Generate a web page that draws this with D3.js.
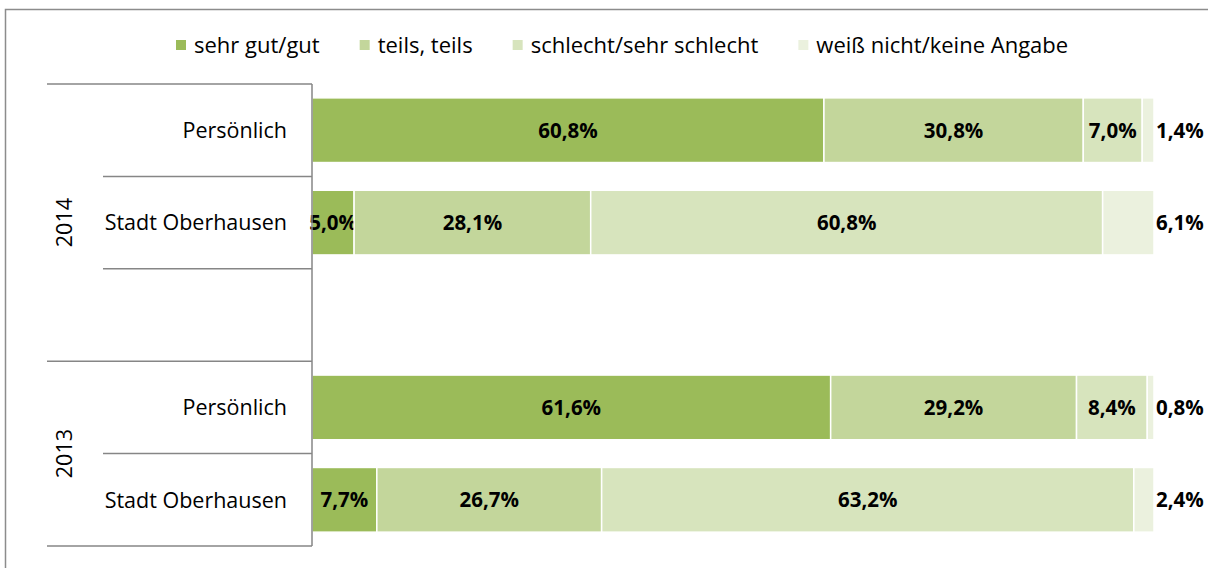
<!DOCTYPE html>
<html><head><meta charset="utf-8">
<script src="https://cdn.jsdelivr.net/npm/d3@7"></script>
<style>html,body{margin:0;padding:0;background:#fff;}svg{display:block;font-family:"Open Sans",sans-serif;}</style>
</head><body>
<svg id="c" width="1208" height="568"></svg>
<script>
const seriesNames = ["sehr gut/gut", "teils, teils", "schlecht/sehr schlecht", "weiß nicht/keine Angabe"];
const seriesColors = ["#9BBB59", "#C3D69B", "#D7E4BD", "#EBF1DE"];
const years = ["2014", "2013"];
const rowKeys = ["2014|Persönlich", "2014|Stadt Oberhausen", "2014|", "2013|Persönlich", "2013|Stadt Oberhausen"];
const rowLabels = ["Persönlich", "Stadt Oberhausen", "", "Persönlich", "Stadt Oberhausen"];
const sehrGut = [60.8, 5.0, null, 61.6, 7.7];
const teils = [30.8, 28.1, null, 29.2, 26.7];
const schlecht = [7.0, 60.8, null, 8.4, 63.2];
const weissNicht = [1.4, 6.1, null, 0.8, 2.4];
const valueSeries = [sehrGut, teils, schlecht, weissNicht];

const svg = d3.select("#c");
const fmt = v => d3.format(".1f")(v).replace(".", ",") + "%";

const x = d3.scaleLinear().domain([0, 100]).range([312, 1154]);
const y = d3.scaleBand().domain(rowKeys).range([84, 546]).paddingInner(0.3).paddingOuter(0.15);
const gap = y.step() * y.paddingInner() / 2;

// outer border
svg.append("rect").attr("x", 5.5).attr("y", 9.5).attr("width", 1220).attr("height", 580)
  .attr("fill", "none").attr("stroke", "#8c8c8c").attr("stroke-width", 1.5);

// bars
rowKeys.forEach((k, i) => {
  let acc = 0;
  valueSeries.forEach((s, j) => {
    const v = s[i];
    if (v == null) return;
    const x0 = x(acc), x1 = x(acc + v);
    acc += v;
    svg.append("rect").attr("x", x0).attr("y", y(k)).attr("width", x1 - x0).attr("height", y.bandwidth())
      .attr("fill", seriesColors[j]).attr("stroke", "#fff").attr("stroke-width", 1.5);
    const last = j === valueSeries.length - 1;
    svg.append("text")
      .attr("x", last ? x(100) + 2 : (x0 + x1) / 2)
      .attr("y", y(k) + y.bandwidth() / 2)
      .attr("dy", "0.36em")
      .attr("text-anchor", last ? "start" : "middle")
      .attr("font-weight", "bold").attr("font-size", 20.5).attr("fill", "#000")
      .text(fmt(v));
  });
});

// hierarchical axis
const axisColor = "#868686";
const axisG = svg.append("g").attr("stroke", axisColor).attr("stroke-width", 1.5);
axisG.append("line").attr("x1", x(0)).attr("x2", x(0)).attr("y1", y.range()[0]).attr("y2", y.range()[1]);
rowKeys.forEach((k, i) => {
  const top = y(k) - gap;
  const yr = k.split("|")[0];
  const groupStart = i === 0 || rowKeys[i - 1].split("|")[0] !== yr;
  axisG.append("line").attr("x1", groupStart ? 47 : 103).attr("x2", x(0)).attr("y1", top).attr("y2", top);
});
axisG.append("line").attr("x1", 47).attr("x2", x(0)).attr("y1", y.range()[1]).attr("y2", y.range()[1]);

rowKeys.forEach((k, i) => {
  if (!rowLabels[i]) return;
  svg.append("text").attr("x", 287).attr("y", y(k) + y.bandwidth() / 2).attr("dy", "0.36em")
    .attr("text-anchor", "end").attr("font-size", 21.5).attr("fill", "#000").text(rowLabels[i]);
});
years.forEach(yr => {
  const ks = rowKeys.filter(k => k.startsWith(yr + "|"));
  const top = y(ks[0]) - gap, bot = y(ks[ks.length - 1]) + y.bandwidth() + gap;
  const cy = (top + bot) / 2;
  svg.append("text").attr("transform", `translate(64,${cy}) rotate(-90)`).attr("dy", "0.36em")
    .attr("text-anchor", "middle").attr("font-size", 21.5).attr("fill", "#000").text(yr);
});

// legend
let lx = 176;
const ly = 45;
seriesNames.forEach((n, j) => {
  svg.append("rect").attr("x", lx).attr("y", ly - 5).attr("width", 10).attr("height", 10).attr("fill", seriesColors[j]);
  const t = svg.append("text").attr("x", lx + 18).attr("y", ly).attr("dy", "0.36em")
    .attr("font-size", 22).attr("fill", "#000").text(n);
  lx += 18 + t.node().getComputedTextLength() + 40;
});
</script>
</body></html>
